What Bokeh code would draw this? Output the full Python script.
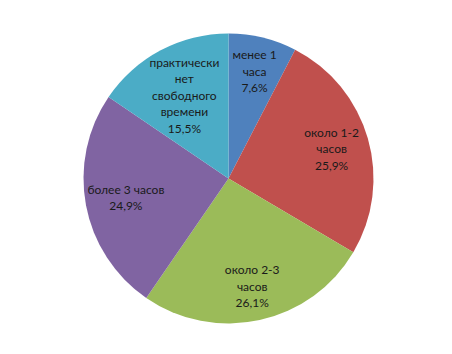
import math
from bokeh.plotting import figure
from bokeh.models import Range1d, ColumnDataSource
from bokeh.core.properties import value
from bokeh.embed import file_html
from bokeh.resources import INLINE

categories = ["менее 1\nчаса", "около 1-2\nчасов", "около 2-3\nчасов", "более 3 часов", "практически\nнет\nсвободного\nвремени"]
shares = [7.6, 25.9, 26.1, 24.9, 15.5]
pct_labels = ["7,6%", "25,9%", "26,1%", "24,9%", "15,5%"]
colors = ["#4F81BD", "#C0504D", "#9BBB59", "#8064A2", "#4BACC6"]

W, H = 452, 354
cx, cy, R = 228, H - 178, 145
label_frac = [0.76, 0.74, 0.76, 0.72, 0.65]

total = sum(shares)
starts, ends, lx, ly, texts = [], [], [], [], []
cum = 0.0
for i, s in enumerate(shares):
    a0 = math.pi / 2 - 2 * math.pi * cum / total
    cum += s
    a1 = math.pi / 2 - 2 * math.pi * cum / total
    starts.append(a0)
    ends.append(a1)
    mid = (a0 + a1) / 2
    lx.append(cx + label_frac[i] * R * math.cos(mid))
    ly.append(cy + label_frac[i] * R * math.sin(mid))
    texts.append(categories[i] + "\n" + pct_labels[i])

src = ColumnDataSource(dict(start=starts, end=ends, color=colors, x=[cx] * 5, y=[cy] * 5))
lsrc = ColumnDataSource(dict(x=lx, y=ly, text=texts))

p = figure(width=W, height=H, x_range=Range1d(0, W), y_range=Range1d(0, H),
           output_backend="svg", toolbar_location=None, min_border=0,
           background_fill_color="white", border_fill_color="white")
p.axis.visible = False
p.grid.visible = False
p.outline_line_color = None

p.wedge(x="x", y="y", radius=R, start_angle="start", end_angle="end",
        direction="clock", fill_color="color", line_color=None, source=src)
p.text(x="x", y="y", text="text", source=lsrc, text_align="center",
       text_baseline="middle", text_font=value("Lato"), text_font_size="12px",
       text_color="#1a1a1a", text_line_height=1.1)

open("out.html", "w").write(file_html(p, INLINE))
